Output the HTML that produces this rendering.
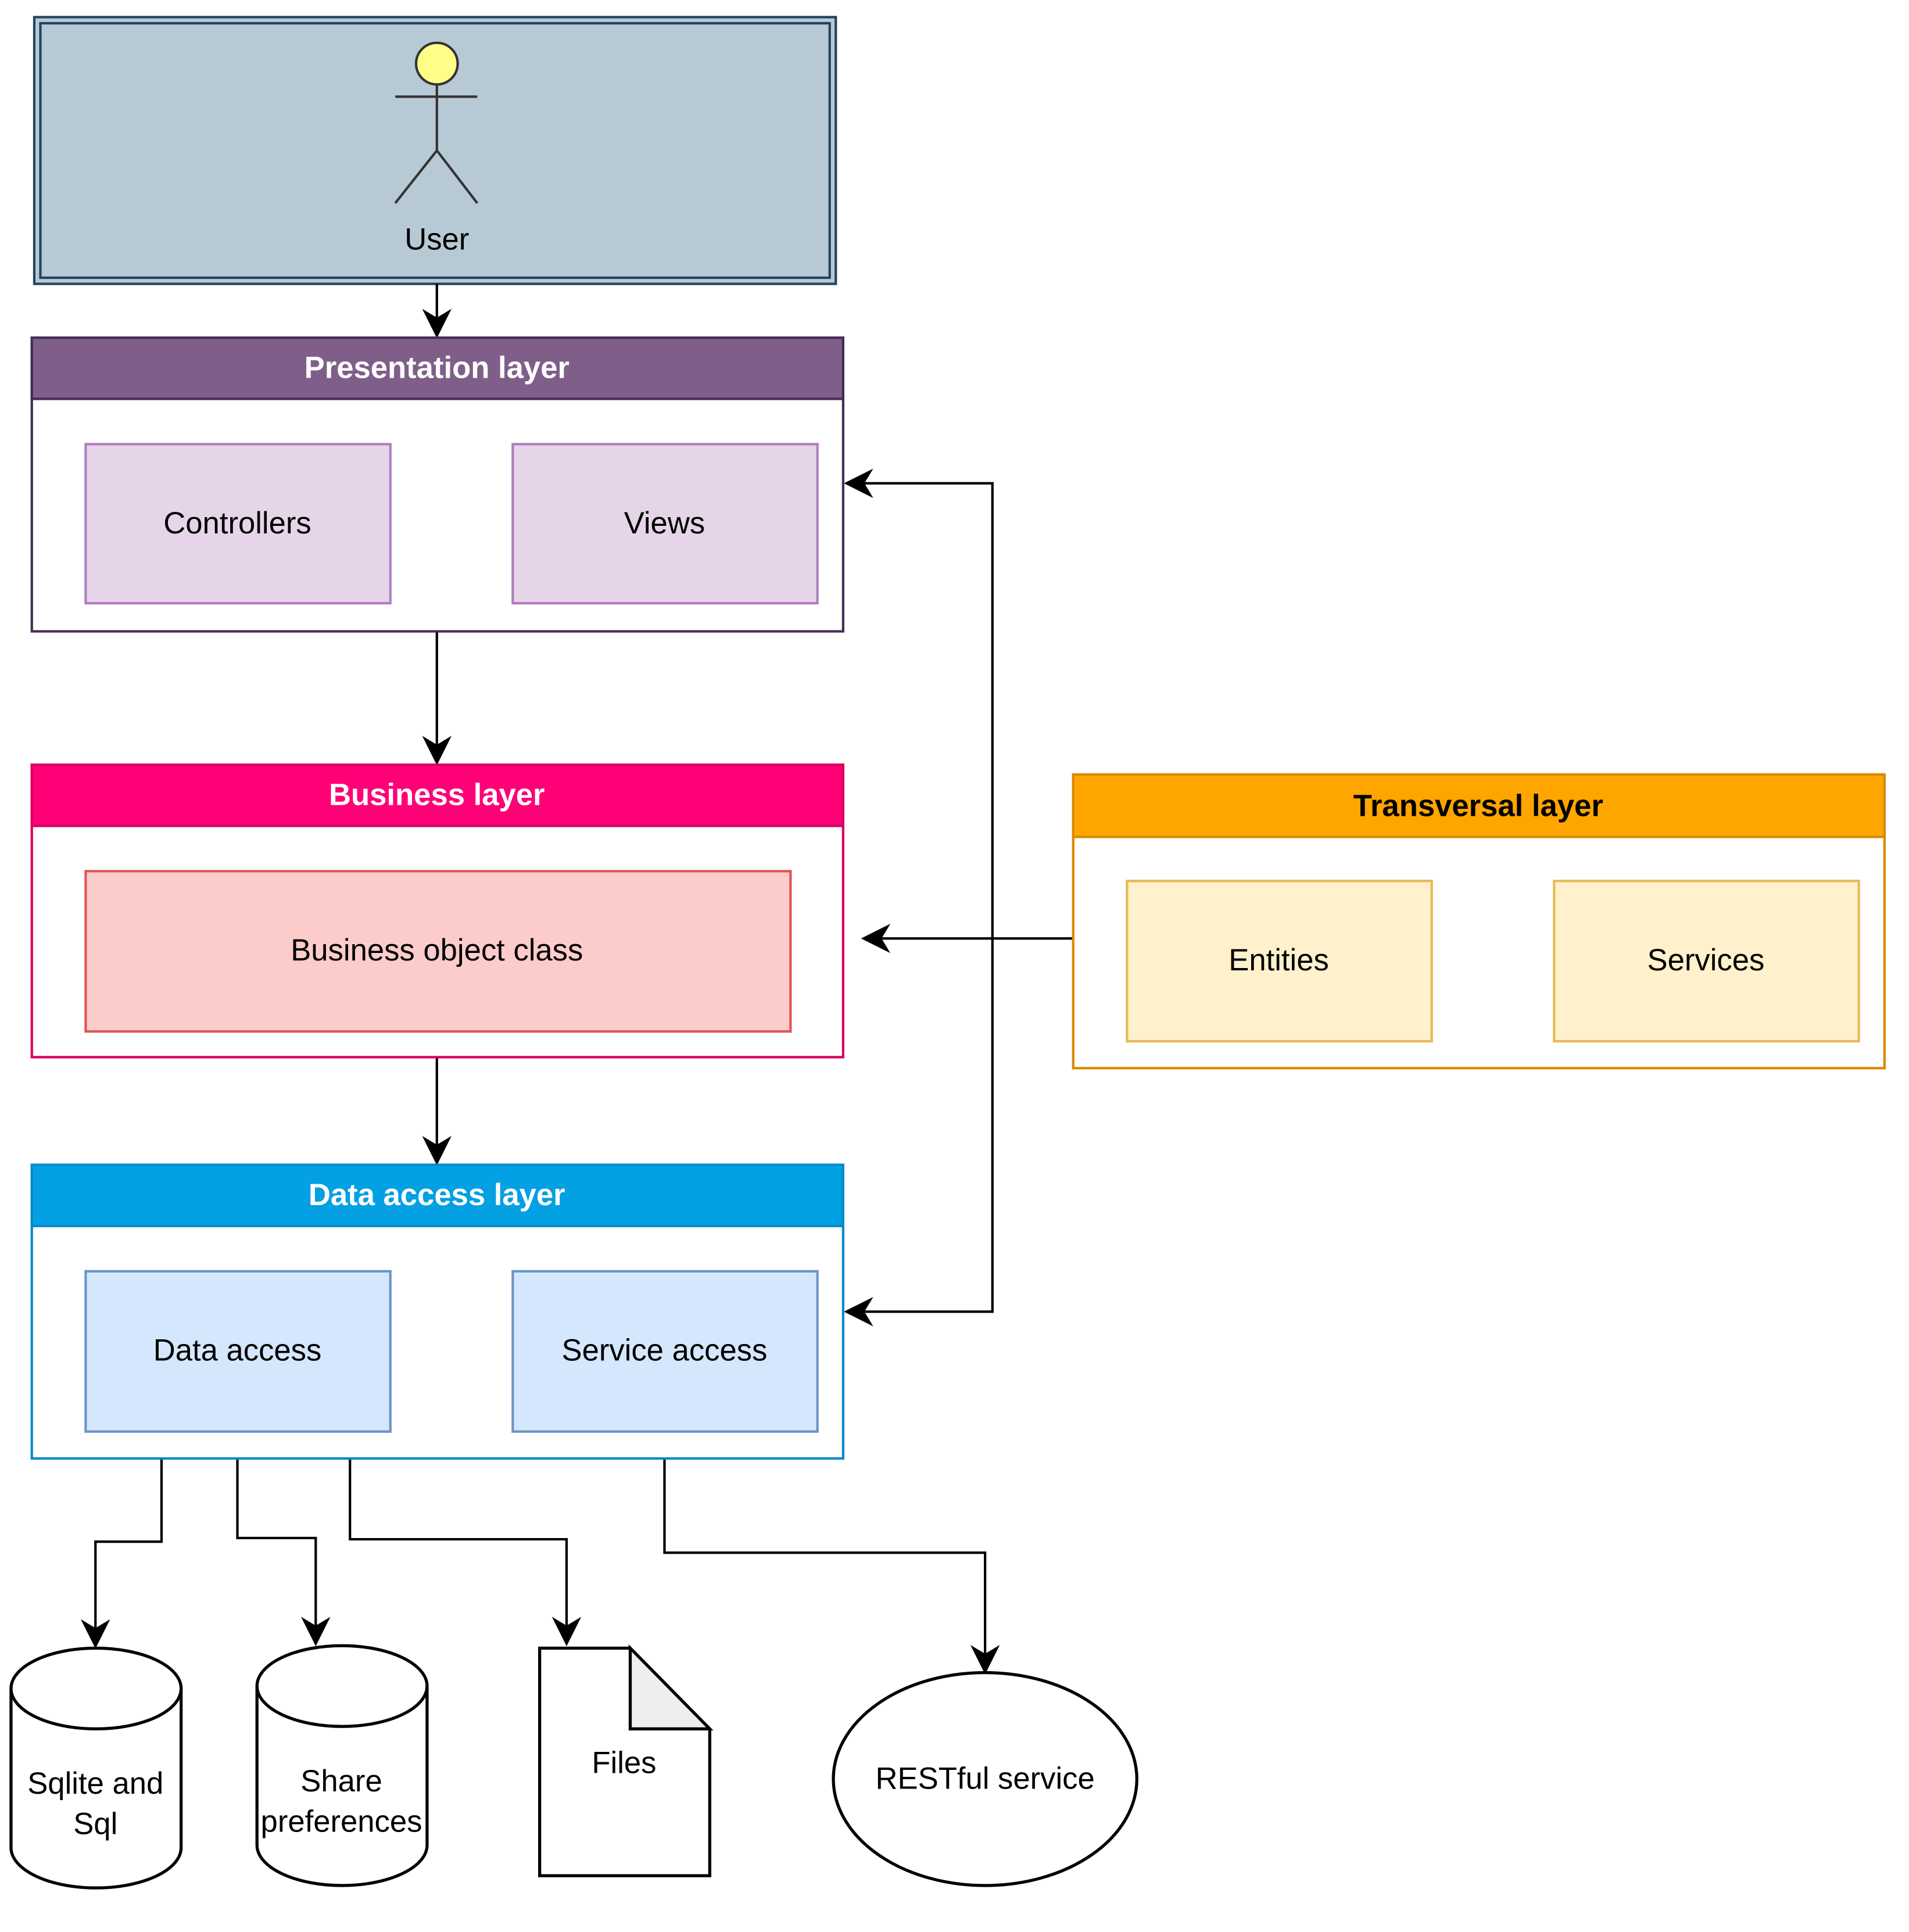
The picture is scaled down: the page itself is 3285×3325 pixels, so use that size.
<!DOCTYPE html>
<html><head><meta charset="utf-8"><style>html,body{margin:0;padding:0;background:#fff}svg{display:block}</style></head><body>
<svg width="3285" height="3325" viewBox="0 0 1560 1579" xmlns="http://www.w3.org/2000/svg" font-family="Liberation Sans, Arial, sans-serif" font-size="25" text-anchor="middle">
<defs>
<marker id="b" viewBox="0 0 10 10" refX="9" refY="5" markerWidth="24" markerHeight="24" markerUnits="userSpaceOnUse" orient="auto"><path d="M0,0 L10,5 L0,10 L3,5 Z" fill="#000"/></marker></defs>
<rect x="28" y="14" width="655" height="218" fill="#b7c9d5" stroke="#23445d" stroke-width="2"/>
<rect x="33" y="19" width="645" height="208" fill="none" stroke="#23445d" stroke-width="2"/>
<circle cx="357" cy="52" r="17" fill="#ffff88" stroke="#333" stroke-width="2"/>
<g stroke="#333" stroke-width="2" fill="none"><line x1="323" y1="79" x2="390" y2="79"/><line x1="357" y1="69" x2="357" y2="123"/><polyline points="323,166 357,123 390,166"/></g>
<text x="357" y="204">User</text>
<g stroke="#000" stroke-width="2" fill="none">
<line x1="357" y1="232" x2="357" y2="274" marker-end="url(#b)"/>
<line x1="357" y1="516" x2="357" y2="623" marker-end="url(#b)"/>
<line x1="357" y1="864" x2="357" y2="950" marker-end="url(#b)"/>
<line x1="877" y1="767" x2="706" y2="767" marker-end="url(#b)"/>
<polyline points="811,767 811,395 692,395" marker-end="url(#b)"/>
<polyline points="811,767 811,1072 692,1072" marker-end="url(#b)"/>
<polyline points="132,1170 132,1260 78,1260 78,1345" marker-end="url(#b)"/>
<polyline points="194,1170 194,1257 258,1257 258,1343" marker-end="url(#b)"/>
<polyline points="286,1170 286,1258 463,1258 463,1343" marker-end="url(#b)"/>
<polyline points="543,1170 543,1269 805,1269 805,1366" marker-end="url(#b)"/>
</g>
<rect x="26" y="276" width="663" height="240" fill="#fff" stroke="#432d57" stroke-width="2"/>
<rect x="26" y="276" width="663" height="50" fill="#7f5f8a" stroke="#432d57" stroke-width="2"/>
<text x="357" y="309" fill="#fff" font-weight="bold">Presentation layer</text>
<rect x="70" y="363" width="249" height="130" fill="#e6d5e8" stroke="#b07ec0" stroke-width="2"/>
<text x="194" y="436">Controllers</text>
<rect x="419" y="363" width="249" height="130" fill="#e6d5e8" stroke="#b07ec0" stroke-width="2"/>
<text x="543" y="436">Views</text>
<rect x="26" y="625" width="663" height="239" fill="#fff" stroke="#d80060" stroke-width="2"/>
<rect x="26" y="625" width="663" height="50" fill="#ff0077" stroke="#d80060" stroke-width="2"/>
<text x="357" y="658" fill="#fff" font-weight="bold">Business layer</text>
<rect x="70" y="712" width="576" height="131" fill="#fccccb" stroke="#e05555" stroke-width="2"/>
<text x="357" y="785">Business object class</text>
<rect x="26" y="952" width="663" height="240" fill="#fff" stroke="#0a8ac8" stroke-width="2"/>
<rect x="26" y="952" width="663" height="50" fill="#03a0e3" stroke="#0a8ac8" stroke-width="2"/>
<text x="357" y="985" fill="#fff" font-weight="bold">Data access layer</text>
<rect x="70" y="1039" width="249" height="131" fill="#d4e7fc" stroke="#6c95c8" stroke-width="2"/>
<text x="194" y="1112">Data access</text>
<rect x="419" y="1039" width="249" height="131" fill="#d4e7fc" stroke="#6c95c8" stroke-width="2"/>
<text x="543" y="1112">Service access</text>
<rect x="877" y="633" width="663" height="240" fill="#fff" stroke="#d98a00" stroke-width="2"/>
<rect x="877" y="633" width="663" height="51" fill="#ffa500" stroke="#d98a00" stroke-width="2"/>
<text x="1208" y="667" font-weight="bold">Transversal layer</text>
<rect x="921" y="720" width="249" height="131" fill="#fff1cc" stroke="#e6bb55" stroke-width="2"/>
<text x="1045" y="793">Entities</text>
<rect x="1270" y="720" width="249" height="131" fill="#fff1cc" stroke="#e6bb55" stroke-width="2"/>
<text x="1394" y="793">Services</text>
<g stroke="#000" stroke-width="2.5" fill="#fff">
<path d="M9,1380 A69.5,33 0 0 1 148,1380 L148,1510 A69.5,33 0 0 1 9,1510 Z"/>
<path d="M9,1380 A69.5,33 0 0 0 148,1380" fill="none"/>
<path d="M210,1378 A69.5,33 0 0 1 349,1378 L349,1508 A69.5,33 0 0 1 210,1508 Z"/>
<path d="M210,1378 A69.5,33 0 0 0 349,1378" fill="none"/>
<path d="M441,1347 L515,1347 L580,1413 L580,1533 L441,1533 Z"/>
<path d="M515,1347 L515,1413 L580,1413 Z" fill="#eeeeee"/>
<ellipse cx="805" cy="1454" rx="124" ry="87"/>
</g>
<text x="78" y="1466">Sqlite and</text>
<text x="78" y="1499">Sql</text>
<text x="279" y="1464">Share</text>
<text x="279" y="1497">preferences</text>
<text x="510" y="1449">Files</text>
<text x="805" y="1462">RESTful service</text>
</svg>
</body></html>
